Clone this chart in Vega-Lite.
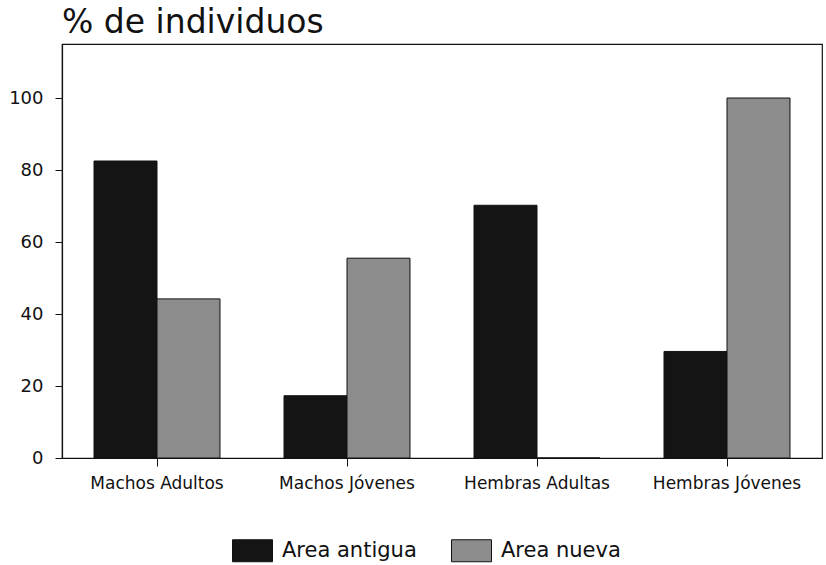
{
  "$schema": "https://vega.github.io/schema/vega-lite/v6.json",
  "width": 760,
  "height": 414,
  "autosize": {"type": "none"},
  "padding": {"left": 62, "top": 44, "right": 4, "bottom": 107},
  "background": "white",
  "title": {
    "text": "% de individuos",
    "anchor": "start",
    "frame": "group",
    "font": "DejaVu Sans",
    "fontSize": 33,
    "fontWeight": "normal",
    "color": "#111111",
    "offset": 4
  },
  "data": {
    "values": [
      {"grupo": "Machos Adultos", "area": "Area antigua", "pct": 82.5},
      {"grupo": "Machos Adultos", "area": "Area nueva", "pct": 44.2},
      {"grupo": "Machos Jóvenes", "area": "Area antigua", "pct": 17.3},
      {"grupo": "Machos Jóvenes", "area": "Area nueva", "pct": 55.5},
      {"grupo": "Hembras Adultas", "area": "Area antigua", "pct": 70.2},
      {"grupo": "Hembras Adultas", "area": "Area nueva", "pct": 0},
      {"grupo": "Hembras Jóvenes", "area": "Area antigua", "pct": 29.6},
      {"grupo": "Hembras Jóvenes", "area": "Area nueva", "pct": 100}
    ]
  },
  "mark": {"type": "bar", "stroke": "#111111", "strokeWidth": 1},
  "encoding": {
    "x": {
      "field": "grupo",
      "type": "nominal",
      "sort": ["Machos Adultos", "Machos Jóvenes", "Hembras Adultas", "Hembras Jóvenes"],
      "scale": {"paddingInner": 0.337, "paddingOuter": 0.1685},
      "axis": {
        "title": null,
        "labelAngle": 0,
        "labelFont": "DejaVu Sans",
        "labelFontSize": 17,
        "labelFontWeight": "normal",
        "labelColor": "#111111",
        "labelPadding": 9,
        "tickSize": 8,
        "tickColor": "#111111",
        "domainColor": "#111111",
        "domainWidth": 1.2,
        "grid": false
      }
    },
    "xOffset": {"field": "area", "sort": ["Area antigua", "Area nueva"]},
    "y": {
      "field": "pct",
      "type": "quantitative",
      "scale": {"domain": [0, 115]},
      "axis": {
        "title": null,
        "values": [0, 20, 40, 60, 80, 100],
        "labelFont": "DejaVu Sans",
        "labelFontSize": 18,
        "labelColor": "#111111",
        "labelPadding": 12,
        "tickSize": 7,
        "tickColor": "#111111",
        "domainColor": "#111111",
        "domainWidth": 1.2,
        "grid": false
      }
    },
    "fill": {
      "field": "area",
      "type": "nominal",
      "scale": {"domain": ["Area antigua", "Area nueva"], "range": ["#141414", "#8c8c8c"]},
      "legend": {
        "orient": "none",
        "legendX": 170,
        "legendY": 486,
        "direction": "horizontal",
        "title": null,
        "padding": 0,
        "symbolType": "M-1,-0.55H1V0.55H-1Z",
        "symbolSize": 1600,
        "symbolStrokeColor": "#111111",
        "symbolStrokeWidth": 1,
        "labelFont": "DejaVu Sans",
        "labelFontSize": 21,
        "labelColor": "#111111",
        "labelOffset": 9,
        "columnPadding": 32
      }
    }
  },
  "config": {"view": {"stroke": "#111111", "strokeWidth": 1.2}}
}
